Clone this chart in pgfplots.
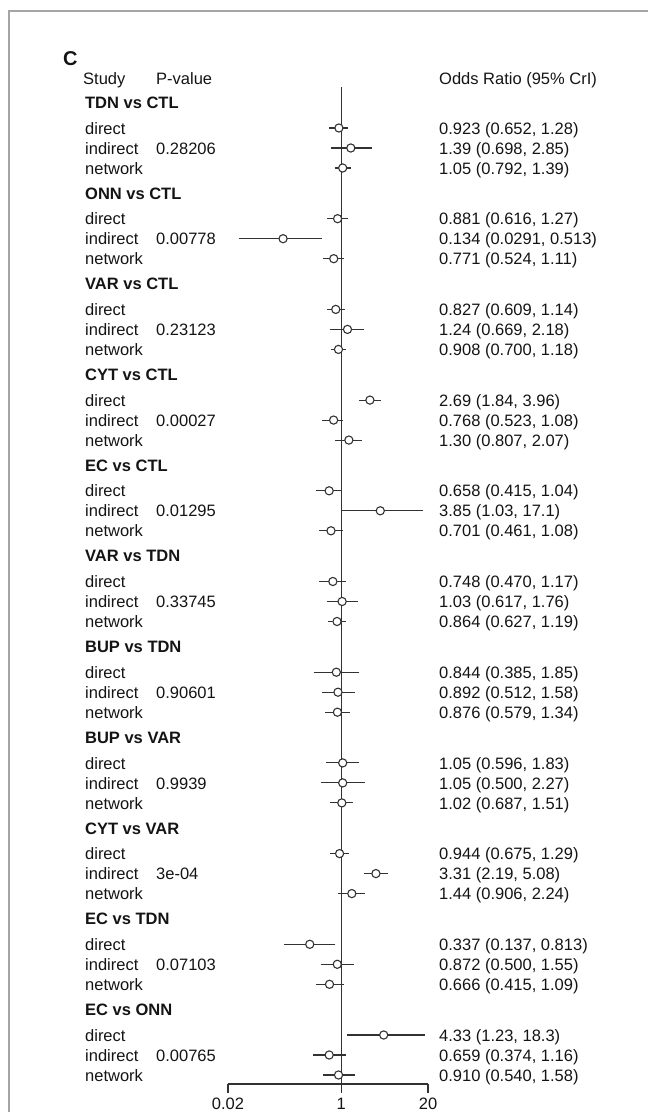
\documentclass[border=0pt]{standalone}
\usepackage{fontspec}
\setmainfont{Liberation Sans}
\usepackage{pgfplots}
\pgfplotsset{compat=1.18}
\definecolor{lc}{RGB}{50,50,50}
\definecolor{tc}{RGB}{20,20,20}
\definecolor{bd}{RGB}{165,165,165}
\pgfplotsset{
  cil/.style={lc, line width=1.1pt},
  pt/.style={only marks, mark=*, mark size=4.1pt, mark options={fill=white, draw=lc, line width=1.1pt}},
}
\newcommand\grp[2]{\node[hd] at (axis cs:1,#1) {#2};}
\newcommand\rw[7]{%
  \addplot[cil] coordinates {(#5,#1) (#6,#1)};
  \addplot[pt] coordinates {(#4,#1)};
  \node[lb] at (axis cs:1,#1) {#2};
  \node[pv] at (axis cs:1,#1) {#3};
  \node[vl] at (axis cs:1,#1) {#7};
}
\begin{document}
\fontsize{16.5}{19.8}\selectfont
\begin{tikzpicture}[
  hd/.style={text=tc, inner sep=0pt, anchor=base west, xshift=-256.3pt, yshift=-5.5pt, font=\bfseries},
  lb/.style={text=tc, inner sep=0pt, anchor=base west, xshift=-256.3pt, yshift=-6.2pt},
  pv/.style={text=tc, inner sep=0pt, anchor=base west, xshift=-185.3pt, yshift=-6.2pt},
  vl/.style={text=tc, inner sep=0pt, anchor=base west, xshift=97.7pt, yshift=-6.2pt},
]
\useasboundingbox (-228pt,-28pt) rectangle (420pt,1084pt);
\draw[bd, line width=1.4pt] (-219pt,-30pt) -- (-219pt,1073pt) -- (422pt,1073pt);
\begin{axis}[
  at={(0,0)}, anchor=south west,
  scale only axis, width=200pt, height=997pt,
  xmode=log, xmin=0.02, xmax=20, ymin=-1084, ymax=-87,
  axis x line*=bottom, axis y line=none,
  xtick={0.02,1,20}, xticklabels={0.02,1,20}, xminorticks=false,
  tick align=outside, major tick length=8.5pt,
  axis line style={lc, line width=1.1pt},
  every tick/.style={lc, line width=1.1pt},
  xticklabel style={text=tc},
  clip=false,
]
\addplot[lc, line width=1.2pt] coordinates {(1,-87) (1,-1084)};
\node[text=tc, inner sep=0pt, anchor=base west, xshift=-278.3pt, font=\bfseries\fontsize{20}{24}\selectfont] at (axis cs:1,-66) {C};
\node[text=tc, inner sep=0pt, anchor=base west, xshift=-258.3pt] at (axis cs:1,-85) {Study};
\node[text=tc, inner sep=0pt, anchor=base west, xshift=-185.3pt] at (axis cs:1,-85) {P-value};
\node[text=tc, inner sep=0pt, anchor=base west, xshift=97.7pt] at (axis cs:1,-85) {Odds Ratio (95\% CrI)};
% TDN vs CTL
\grp{-103}{TDN vs CTL}
\rw{-128}{direct}{}{0.923}{0.652}{1.28}{0.923 (0.652, 1.28)}
\rw{-148}{indirect}{0.28206}{1.39}{0.698}{2.85}{1.39 (0.698, 2.85)}
\rw{-168}{network}{}{1.05}{0.792}{1.39}{1.05 (0.792, 1.39)}
% ONN vs CTL
\grp{-193.7}{ONN vs CTL}
\rw{-218.7}{direct}{}{0.881}{0.616}{1.27}{0.881 (0.616, 1.27)}
\rw{-238.7}{indirect}{0.00778}{0.134}{0.0291}{0.513}{0.134 (0.0291, 0.513)}
\rw{-258.7}{network}{}{0.771}{0.524}{1.11}{0.771 (0.524, 1.11)}
% VAR vs CTL
\grp{-284.4}{VAR vs CTL}
\rw{-309.4}{direct}{}{0.827}{0.609}{1.14}{0.827 (0.609, 1.14)}
\rw{-329.4}{indirect}{0.23123}{1.24}{0.669}{2.18}{1.24 (0.669, 2.18)}
\rw{-349.4}{network}{}{0.908}{0.700}{1.18}{0.908 (0.700, 1.18)}
% CYT vs CTL
\grp{-375.1}{CYT vs CTL}
\rw{-400.1}{direct}{}{2.69}{1.84}{3.96}{2.69 (1.84, 3.96)}
\rw{-420.1}{indirect}{0.00027}{0.768}{0.523}{1.08}{0.768 (0.523, 1.08)}
\rw{-440.1}{network}{}{1.30}{0.807}{2.07}{1.30 (0.807, 2.07)}
% EC vs CTL
\grp{-465.8}{EC vs CTL}
\rw{-490.8}{direct}{}{0.658}{0.415}{1.04}{0.658 (0.415, 1.04)}
\rw{-510.8}{indirect}{0.01295}{3.85}{1.03}{17.1}{3.85 (1.03, 17.1)}
\rw{-530.8}{network}{}{0.701}{0.461}{1.08}{0.701 (0.461, 1.08)}
% VAR vs TDN
\grp{-556.5}{VAR vs TDN}
\rw{-581.5}{direct}{}{0.748}{0.470}{1.17}{0.748 (0.470, 1.17)}
\rw{-601.5}{indirect}{0.33745}{1.03}{0.617}{1.76}{1.03 (0.617, 1.76)}
\rw{-621.5}{network}{}{0.864}{0.627}{1.19}{0.864 (0.627, 1.19)}
% BUP vs TDN
\grp{-647.2}{BUP vs TDN}
\rw{-672.2}{direct}{}{0.844}{0.385}{1.85}{0.844 (0.385, 1.85)}
\rw{-692.2}{indirect}{0.90601}{0.892}{0.512}{1.58}{0.892 (0.512, 1.58)}
\rw{-712.2}{network}{}{0.876}{0.579}{1.34}{0.876 (0.579, 1.34)}
% BUP vs VAR
\grp{-737.9}{BUP vs VAR}
\rw{-762.9}{direct}{}{1.05}{0.596}{1.83}{1.05 (0.596, 1.83)}
\rw{-782.9}{indirect}{0.9939}{1.05}{0.500}{2.27}{1.05 (0.500, 2.27)}
\rw{-802.9}{network}{}{1.02}{0.687}{1.51}{1.02 (0.687, 1.51)}
% CYT vs VAR
\grp{-828.6}{CYT vs VAR}
\rw{-853.6}{direct}{}{0.944}{0.675}{1.29}{0.944 (0.675, 1.29)}
\rw{-873.6}{indirect}{3e-04}{3.31}{2.19}{5.08}{3.31 (2.19, 5.08)}
\rw{-893.6}{network}{}{1.44}{0.906}{2.24}{1.44 (0.906, 2.24)}
% EC vs TDN
\grp{-919.3}{EC vs TDN}
\rw{-944.3}{direct}{}{0.337}{0.137}{0.813}{0.337 (0.137, 0.813)}
\rw{-964.3}{indirect}{0.07103}{0.872}{0.500}{1.55}{0.872 (0.500, 1.55)}
\rw{-984.3}{network}{}{0.666}{0.415}{1.09}{0.666 (0.415, 1.09)}
% EC vs ONN
\grp{-1010}{EC vs ONN}
\rw{-1035}{direct}{}{4.33}{1.23}{18.3}{4.33 (1.23, 18.3)}
\rw{-1055}{indirect}{0.00765}{0.659}{0.374}{1.16}{0.659 (0.374, 1.16)}
\rw{-1075}{network}{}{0.910}{0.540}{1.58}{0.910 (0.540, 1.58)}
\end{axis}
\end{tikzpicture}
\end{document}
